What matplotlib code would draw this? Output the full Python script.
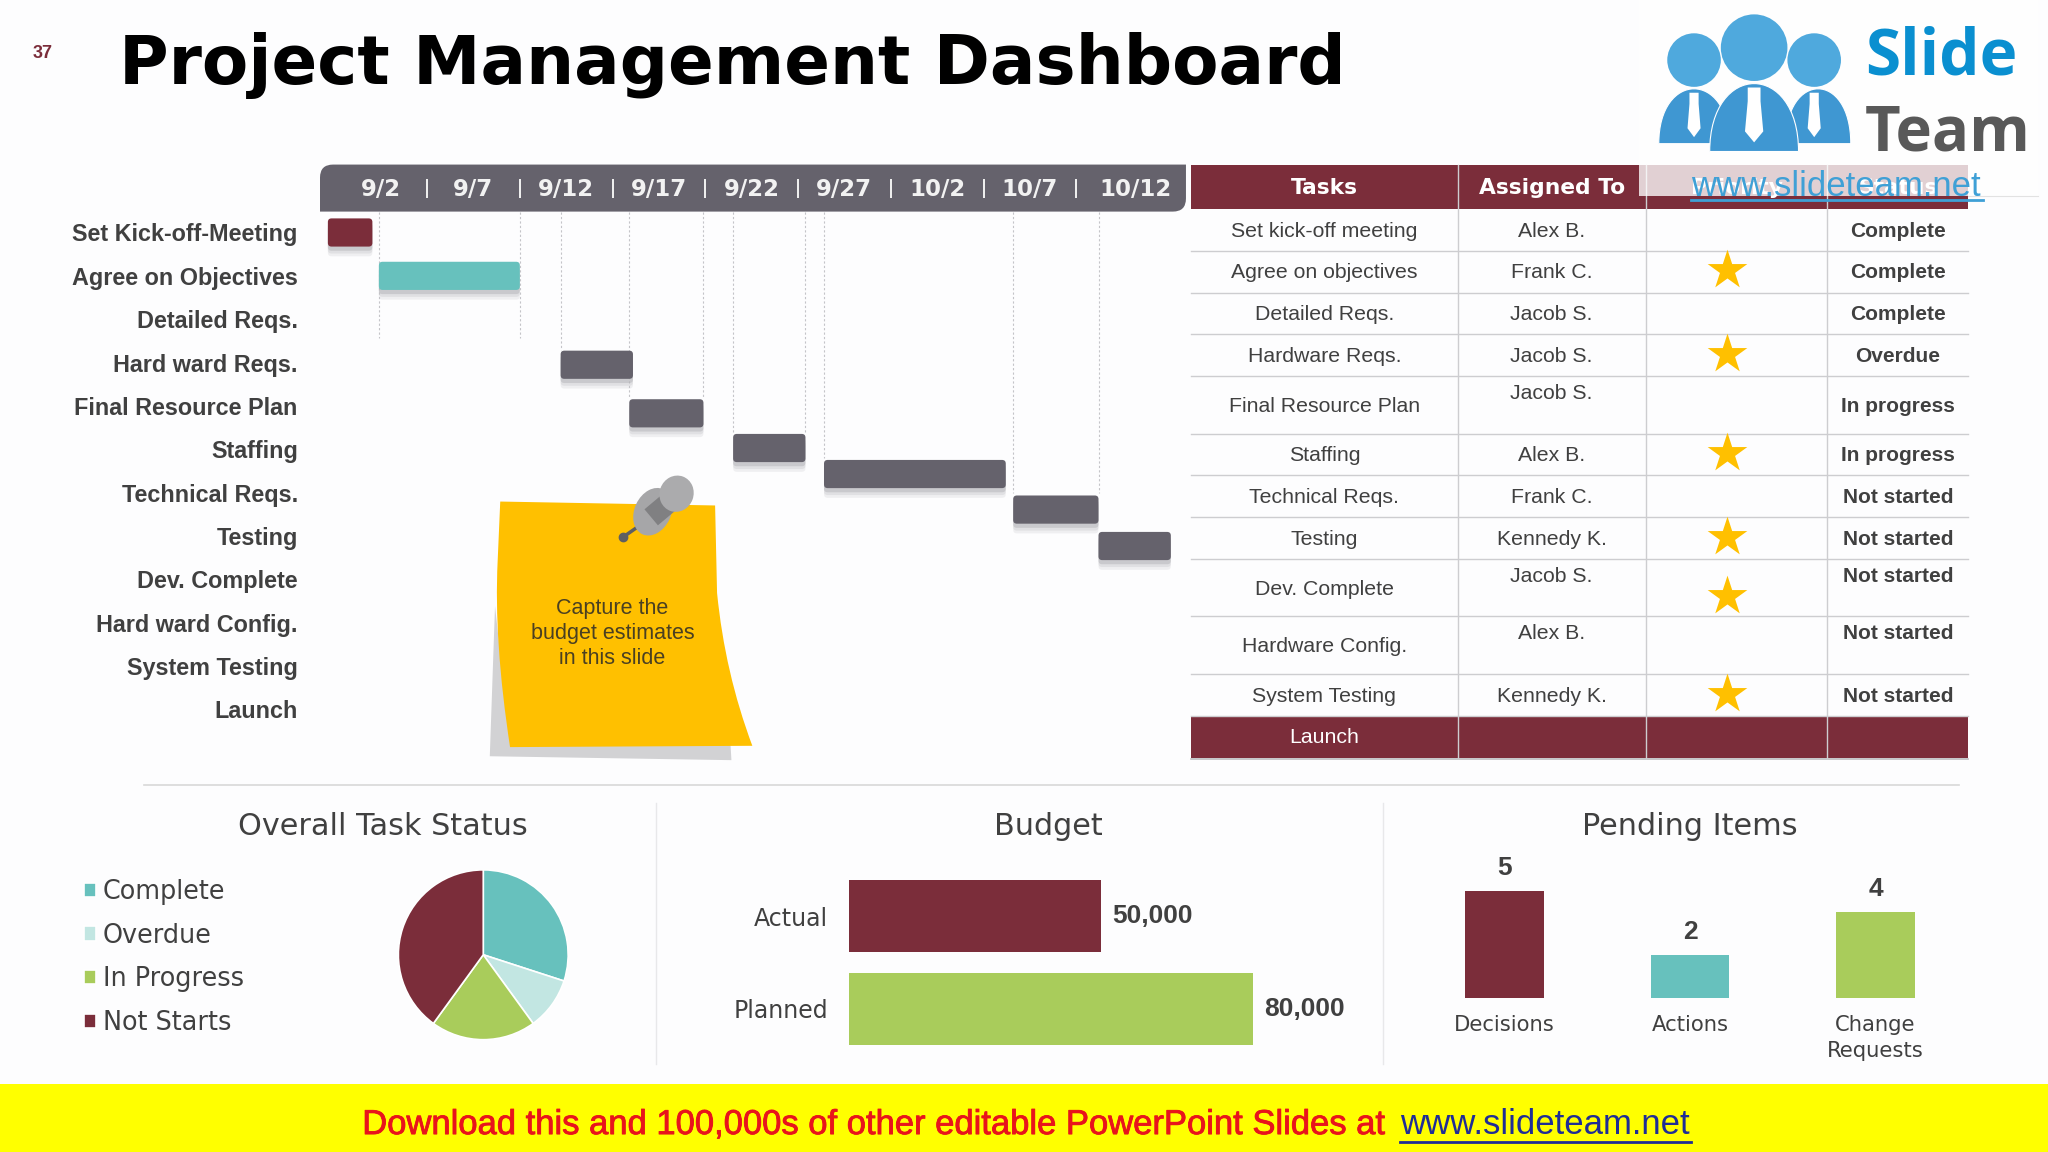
import matplotlib
matplotlib.use("Agg")
import matplotlib.pyplot as plt
from matplotlib.patches import FancyBboxPatch, Rectangle, Circle, Ellipse, PathPatch, Polygon
from matplotlib.path import Path
import matplotlib.patheffects as pe

# ---------- data ----------
gantt_tasks = ["Set Kick-off-Meeting", "Agree on Objectives", "Detailed Reqs.", "Hard ward Reqs.",
               "Final Resource Plan", "Staffing", "Technical Reqs.", "Testing", "Dev. Complete",
               "Hard ward Config.", "System Testing", "Launch"]
date_labels = ["9/2", "9/7", "9/12", "9/17", "9/22", "9/27", "10/2", "10/7", "10/12"]
date_ticks = [2.5, 7.5, 12.5, 17.5, 22.5, 27.5, 32.5, 37.5, 43.2]
date_seps = [5, 10, 15, 20, 25, 30, 35, 40]
bar_rows = [0.0, 1.0, 3.05, 4.17, 4.97, 5.57, 6.39, 7.23]
bar_start = [-0.35, 2.4, 12.2, 15.9, 21.5, 26.4, 36.6, 41.2]
bar_days = [2.4, 7.6, 3.9, 4.0, 3.9, 9.8, 4.6, 3.9]
bar_colors = ["#7B2D3A", "#67C1BD", "#65626C", "#65626C", "#65626C", "#65626C", "#65626C", "#65626C"]
guide_days = [2.4, 10.0, 12.2, 15.9, 19.9, 21.5, 25.4, 26.4, 36.6, 41.2]
guide_ends = [2.44, 2.44, 2.7, 3.8, 3.8, 4.6, 4.6, 5.2, 6.0, 6.0]

table_head = ["Tasks", "Assigned To", "Priority", "Status"]
tasks = ["Set kick-off meeting", "Agree on objectives", "Detailed Reqs.", "Hardware Reqs.",
         "Final Resource Plan", "Staffing", "Technical Reqs.", "Testing", "Dev. Complete",
         "Hardware Config.", "System Testing", "Launch"]
assigned = ["Alex B.", "Frank C.", "Jacob S.", "Jacob S.", "Jacob S.", "Alex B.", "Frank C.",
            "Kennedy K.", "Jacob S.", "Alex B.", "Kennedy K.", ""]
priority = [0, 1, 0, 1, 0, 1, 0, 1, 1, 0, 1, 0]
status = ["Complete", "Complete", "Complete", "Overdue", "In progress", "In progress",
          "Not started", "Not started", "Not started", "Not started", "Not started", ""]
row_edges = [160, 192, 224, 256, 288, 332, 364, 396, 428, 472, 516, 548, 580]
col_edges = [912, 1116, 1260, 1399, 1507]

pie_labels = ["Complete", "Overdue", "In Progress", "Not Starts"]
pie_values = [30, 10, 20, 40]
pie_colors = ["#67C1BD", "#C2E6E2", "#A9CC5B", "#7B2D3A"]

budget_labels = ["Actual", "Planned"]
budget_values = [50000, 80000]
budget_colors = ["#7B2D3A", "#A9CC5B"]

pending_labels = ["Decisions", "Actions", "Change\nRequests"]
pending_values = [5, 2, 4]
pending_colors = ["#7B2D3A", "#67C1BD", "#A9CC5B"]

# ---------- canvas ----------
BG = "#FDFDFE"
DARK = "#404040"
MAROON = "#7B2D3A"
SANS = "Liberation Sans"
fig = plt.figure(figsize=(20.48, 11.52), dpi=100, facecolor=BG)
VW, VH = 1568.0, 882.0

def axes_at(x0, y0, x1, y1, z=1):
    a = fig.add_axes([x0 / VW, 1 - y1 / VH, (x1 - x0) / VW, (y1 - y0) / VH], zorder=z)
    a.patch.set_alpha(0)
    return a

ov = axes_at(0, 0, VW, VH, z=0)
ov.set_xlim(0, VW)
ov.set_ylim(VH, 0)
ov.axis("off")

# title block
ov.text(33, 41, "37", color=MAROON, fontsize=13, fontweight="bold", family=SANS, ha="center", va="center")
ov.text(91, 50, "Project Management Dashboard", color="black", fontsize=48.7, fontweight="bold",
        family="DejaVu Sans", ha="left", va="center")

# gantt header band
L, R, T, B, C = 245, 908, 126, 162, 10
band = Path([(L, B), (L, T + C), (L, T), (L + C, T), (R, T), (R, B - C), (R, B), (R - C, B), (L, B)],
            [Path.MOVETO, Path.LINETO, Path.CURVE3, Path.CURVE3, Path.LINETO, Path.LINETO,
             Path.CURVE3, Path.CURVE3, Path.CLOSEPOLY])
ov.add_patch(PathPatch(band, fc="#65626C", ec="none", zorder=1))

# sticky note
ov.add_patch(Polygon([(379, 464), (375, 579), (560, 582), (559, 565), (390, 565)], fc="#D2D2D4", ec="none", zorder=1))
note = Path([(383, 384), (547.5, 387), (549, 454), (555, 515), (576, 571), (390.5, 572), (378, 490), (381, 430), (383, 384)],
            [Path.MOVETO, Path.LINETO, Path.LINETO, Path.CURVE3, Path.CURVE3, Path.LINETO, Path.CURVE3, Path.CURVE3, Path.CLOSEPOLY])
ov.add_patch(PathPatch(note, fc="#FFC000", ec="none", zorder=2))
ov.plot([488.8, 476.8], [403, 411.4], color="#5E5E62", lw=2.5, zorder=3)
ov.plot([476.8], [411.4], "o", color="#5E5E62", ms=6, zorder=3)
ov.add_patch(Ellipse((499.8, 391.8), 28, 38, angle=25, fc="#A6A6A8", ec="none", zorder=3))
ov.add_patch(Rectangle((496, 381), 22, 16, angle=-40, rotation_point="center", fc="#808082", ec="none", zorder=4))
ov.add_patch(Ellipse((518, 378), 26, 28, angle=20, fc="#ABABAD", ec="none", zorder=5))
ov.text(469, 485, "Capture the\nbudget estimates\nin this slide", color="#4A4022", fontsize=15.5,
        family=SANS, ha="center", va="center", linespacing=1.26, zorder=6)

# table
ov.add_patch(Rectangle((col_edges[0], 126), col_edges[-1] - col_edges[0], 34, fc=MAROON, ec="none", zorder=1))
ov.add_patch(Rectangle((col_edges[0], row_edges[-2]), col_edges[-1] - col_edges[0],
                       row_edges[-1] - row_edges[-2], fc=MAROON, ec="none", zorder=1))
for y in row_edges[1:-1]:
    ov.plot([col_edges[0], col_edges[-1]], [y, y], color="#CDCDD0", lw=1.0, zorder=2)
ov.plot([col_edges[0], col_edges[-1]], [581, 581], color="#BDBDC0", lw=1.2, zorder=2)
for x in col_edges[1:-1]:
    ov.plot([x, x], [126, row_edges[-1]], color="#CDCDD0", lw=1.0, zorder=2)
centers = [(a + b) / 2 for a, b in zip(col_edges[:-1], col_edges[1:])]
for cx, name in zip(centers, table_head):
    ov.text(cx, 144, name, color="white", fontsize=15.7, fontweight="bold", family="DejaVu Sans",
            ha="center", va="center", zorder=3)
for i, name in enumerate(tasks):
    top, bot = row_edges[i], row_edges[i + 1]
    mid = (top + bot) / 2
    tall = bot - top > 40
    ov.text(centers[0], mid + 1, name, color="white" if name == "Launch" else DARK, fontsize=15.3,
            family=SANS, ha="center", va="center", zorder=3)
    ov.text(centers[1], top + 13 if tall else mid + 1, assigned[i], color=DARK, fontsize=15.3,
            family=SANS, ha="center", va="center", zorder=3)
    ov.text(centers[3], top + 13 if (tall and i > 4) else mid + 1, status[i], color=DARK, fontsize=15,
            fontweight="bold", family=SANS, ha="center", va="center", zorder=3)
    if priority[i]:
        ov.scatter([centers[2] - 7], [mid + (6 if tall else -1)], marker="*", s=900, color="#FFC000",
                   linewidths=0, zorder=3)

# logo, drawn over the table header
ov.add_patch(Rectangle((1255, 0), 305, 150, fc="white", ec="none", alpha=0.78, zorder=6))
ov.plot([1507, 1560], [150, 150], color="#E2E2E2", lw=0.8, zorder=6)
BLUE, BLUE2 = "#4FA9DD", "#3F97D2"
for cx, top, hw, bot in [(1297, 68, 27, 110), (1392, 68, 25, 110), (1343, 64, 34, 116)]:
    ctrl = bot - (bot - top) / 0.75
    dome = Path([(cx - hw, bot), (cx - hw, ctrl), (cx + hw, ctrl), (cx + hw, bot), (cx - hw, bot)],
                [Path.MOVETO, Path.CURVE4, Path.CURVE4, Path.CURVE4, Path.CLOSEPOLY])
    ov.add_patch(PathPatch(dome, fc=BLUE2, ec="white", lw=0.8, zorder=7))
for cx, cy, r in [(1297, 46, 20.5), (1389, 46, 20.5), (1343, 36.5, 25.5)]:
    ov.add_patch(Circle((cx, cy), r, fc=BLUE, ec="none", zorder=8))
for cx, top, hw, ln in [(1297, 71, 5, 34), (1389, 71, 5, 34), (1343, 67, 7, 42)]:
    ov.add_patch(Polygon([(cx - hw * .7, top), (cx + hw * .7, top), (cx + hw * .7, top + ln * .25), (cx + hw, top + ln * .8),
                          (cx, top + ln), (cx - hw, top + ln * .8), (cx - hw * .7, top + ln * .25)],
                         fc="white", ec="none", zorder=9))
ov.text(1428, 57, "Slide", color="#0A8FD0", fontsize=46, fontweight="bold", family="Open Sans",
        ha="left", va="baseline", zorder=9)
ov.text(1428, 115, "Team", color="#595959", fontsize=44.5, fontweight="bold", family="Open Sans",
        ha="left", va="baseline", zorder=9)
ov.text(1295, 150, "www.slideteam.net", color="#3FA0D6", fontsize=25, family=SANS,
        ha="left", va="baseline", zorder=9)
ov.plot([1295, 1518], [153.5, 153.5], color="#3FA0D6", lw=2, zorder=9)

# dividers
ov.plot([110, 1500], [601, 601], color="#D8D8D8", lw=1.2, zorder=1)
for x in (502, 1059):
    ov.plot([x, x], [615, 815], color="#E8E8EA", lw=1, zorder=1)

# section titles
for cx, name in [(293.5, "Overall Task Status"), (803, "Budget"), (1294, "Pending Items")]:
    ov.text(cx, 633, name, color=DARK, fontsize=21.8, family="DejaVu Sans", ha="center", va="center")

# footer
stroke = [pe.withStroke(linewidth=0.6, foreground="#E8141C")]
ov.add_patch(Rectangle((0, 830), VW, 52, fc="#FFFF00", ec="none", zorder=1))
ov.text(1071, 861, "Download this and 100,000s of other editable PowerPoint Slides at ", color="#E8141C",
        fontsize=24.9, family=SANS, ha="right", va="center", zorder=2, path_effects=stroke)
ov.text(1072, 861, "www.slideteam.net", color="#1F2D96", fontsize=25, family=SANS, ha="left", va="center", zorder=2)
ov.plot([1072, 1295], [874, 874], color="#1F2D96", lw=2, zorder=2)

# ---------- gantt ----------
gx = axes_at(245, 126, 908, 560, z=2)
gx.set_xlim((245 - 256) / 14.2, (908 - 256) / 14.2)
gx.set_ylim((560 - 178) / 33.2, (126 - 178) / 33.2)
for s in gx.spines.values():
    s.set_visible(False)
gx.xaxis.tick_top()
gx.set_xticks(date_ticks, date_labels, color="#F2F2F2", fontsize=16.5, fontweight="bold", family="DejaVu Sans")
gx.tick_params(axis="x", length=0, pad=-26)
gx.set_yticks(range(len(gantt_tasks)), gantt_tasks, color=DARK, fontsize=16.8, fontweight="bold", family=SANS)
gx.tick_params(axis="y", length=0, pad=16)
header_mid = (144 - 178) / 33.2
gx.vlines(date_seps, header_mid - 0.22, header_mid + 0.22, color="#F2F2F2", lw=1.4)
gx.vlines(guide_days, (162 - 178) / 33.2, guide_ends, color="#C4C4C8", lw=0.8, linestyles=(0, (2, 2)), zorder=1)
BAR_H = 0.65
for r, s, d, c in zip(bar_rows, bar_start, bar_days, bar_colors):
    p = FancyBboxPatch((s, r - BAR_H / 2), d, BAR_H, boxstyle="round,pad=0,rounding_size=0.2",
                       mutation_aspect=0.42, fc=c, ec="none", zorder=3,
                       path_effects=[pe.SimplePatchShadow(offset=(0, -7), shadow_rgbFace="#C8C8CC", alpha=0.25),
                                     pe.SimplePatchShadow(offset=(0, -5), shadow_rgbFace="#C0C0C4", alpha=0.3),
                                     pe.SimplePatchShadow(offset=(0, -3), shadow_rgbFace="#A8A8AC", alpha=0.4),
                                     pe.Normal()])
    gx.add_patch(p)

# ---------- pie ----------
pa = axes_at(305, 666, 435, 796, z=2)
wedges, _ = pa.pie(pie_values, colors=pie_colors, startangle=90, counterclock=False, radius=1,
                   wedgeprops={"edgecolor": "white", "linewidth": 1.2})
pa.set_xlim(-1, 1)
pa.set_ylim(-1, 1)
ov.legend(wedges, pie_labels, loc="upper left", bbox_to_anchor=(64, 673), bbox_transform=ov.transData,
          frameon=False, labelcolor=DARK, handlelength=0.5, handleheight=0.5,
          handletextpad=0.25, labelspacing=0.69, borderpad=0, borderaxespad=0,
          prop={"family": "DejaVu Sans", "size": 18.4})

# ---------- budget ----------
ba = axes_at(650, 666, 1009, 808, z=2)
ba.set_xlim(0, 80000 * (1009 - 650) / (959 - 650))
ba.set_ylim(1.5, -0.5)
rects = ba.barh([0, 1], budget_values, height=0.775, color=budget_colors)
ba.bar_label(rects, labels=[f"{v:,}" for v in budget_values], padding=8, color=DARK, fontsize=19,
             fontweight="bold", family=SANS)
ba.set_xticks([])
ba.set_yticks([0, 1], budget_labels, color=DARK, fontsize=17, family="DejaVu Sans")
ba.tick_params(axis="y", length=0, pad=15)
for s in ba.spines.values():
    s.set_visible(False)

# ---------- pending ----------
pe_ax = axes_at(1081, 650, 1507, 764, z=2)
pe_ax.set_xlim(-0.5, 2.5)
pe_ax.set_ylim(0, 114 / 16.4)
rects = pe_ax.bar(range(3), pending_values, width=0.4225, color=pending_colors)
pe_ax.bar_label(rects, padding=8, color=DARK, fontsize=19, fontweight="bold", family=SANS)
pe_ax.set_yticks([])
pe_ax.set_xticks(range(3), pending_labels, color=DARK, fontsize=15.2, family="DejaVu Sans", linespacing=1.4)
pe_ax.tick_params(axis="x", length=0, pad=12)
for s in pe_ax.spines.values():
    s.set_visible(False)

fig.savefig("out.png", dpi=100, facecolor=fig.get_facecolor())
